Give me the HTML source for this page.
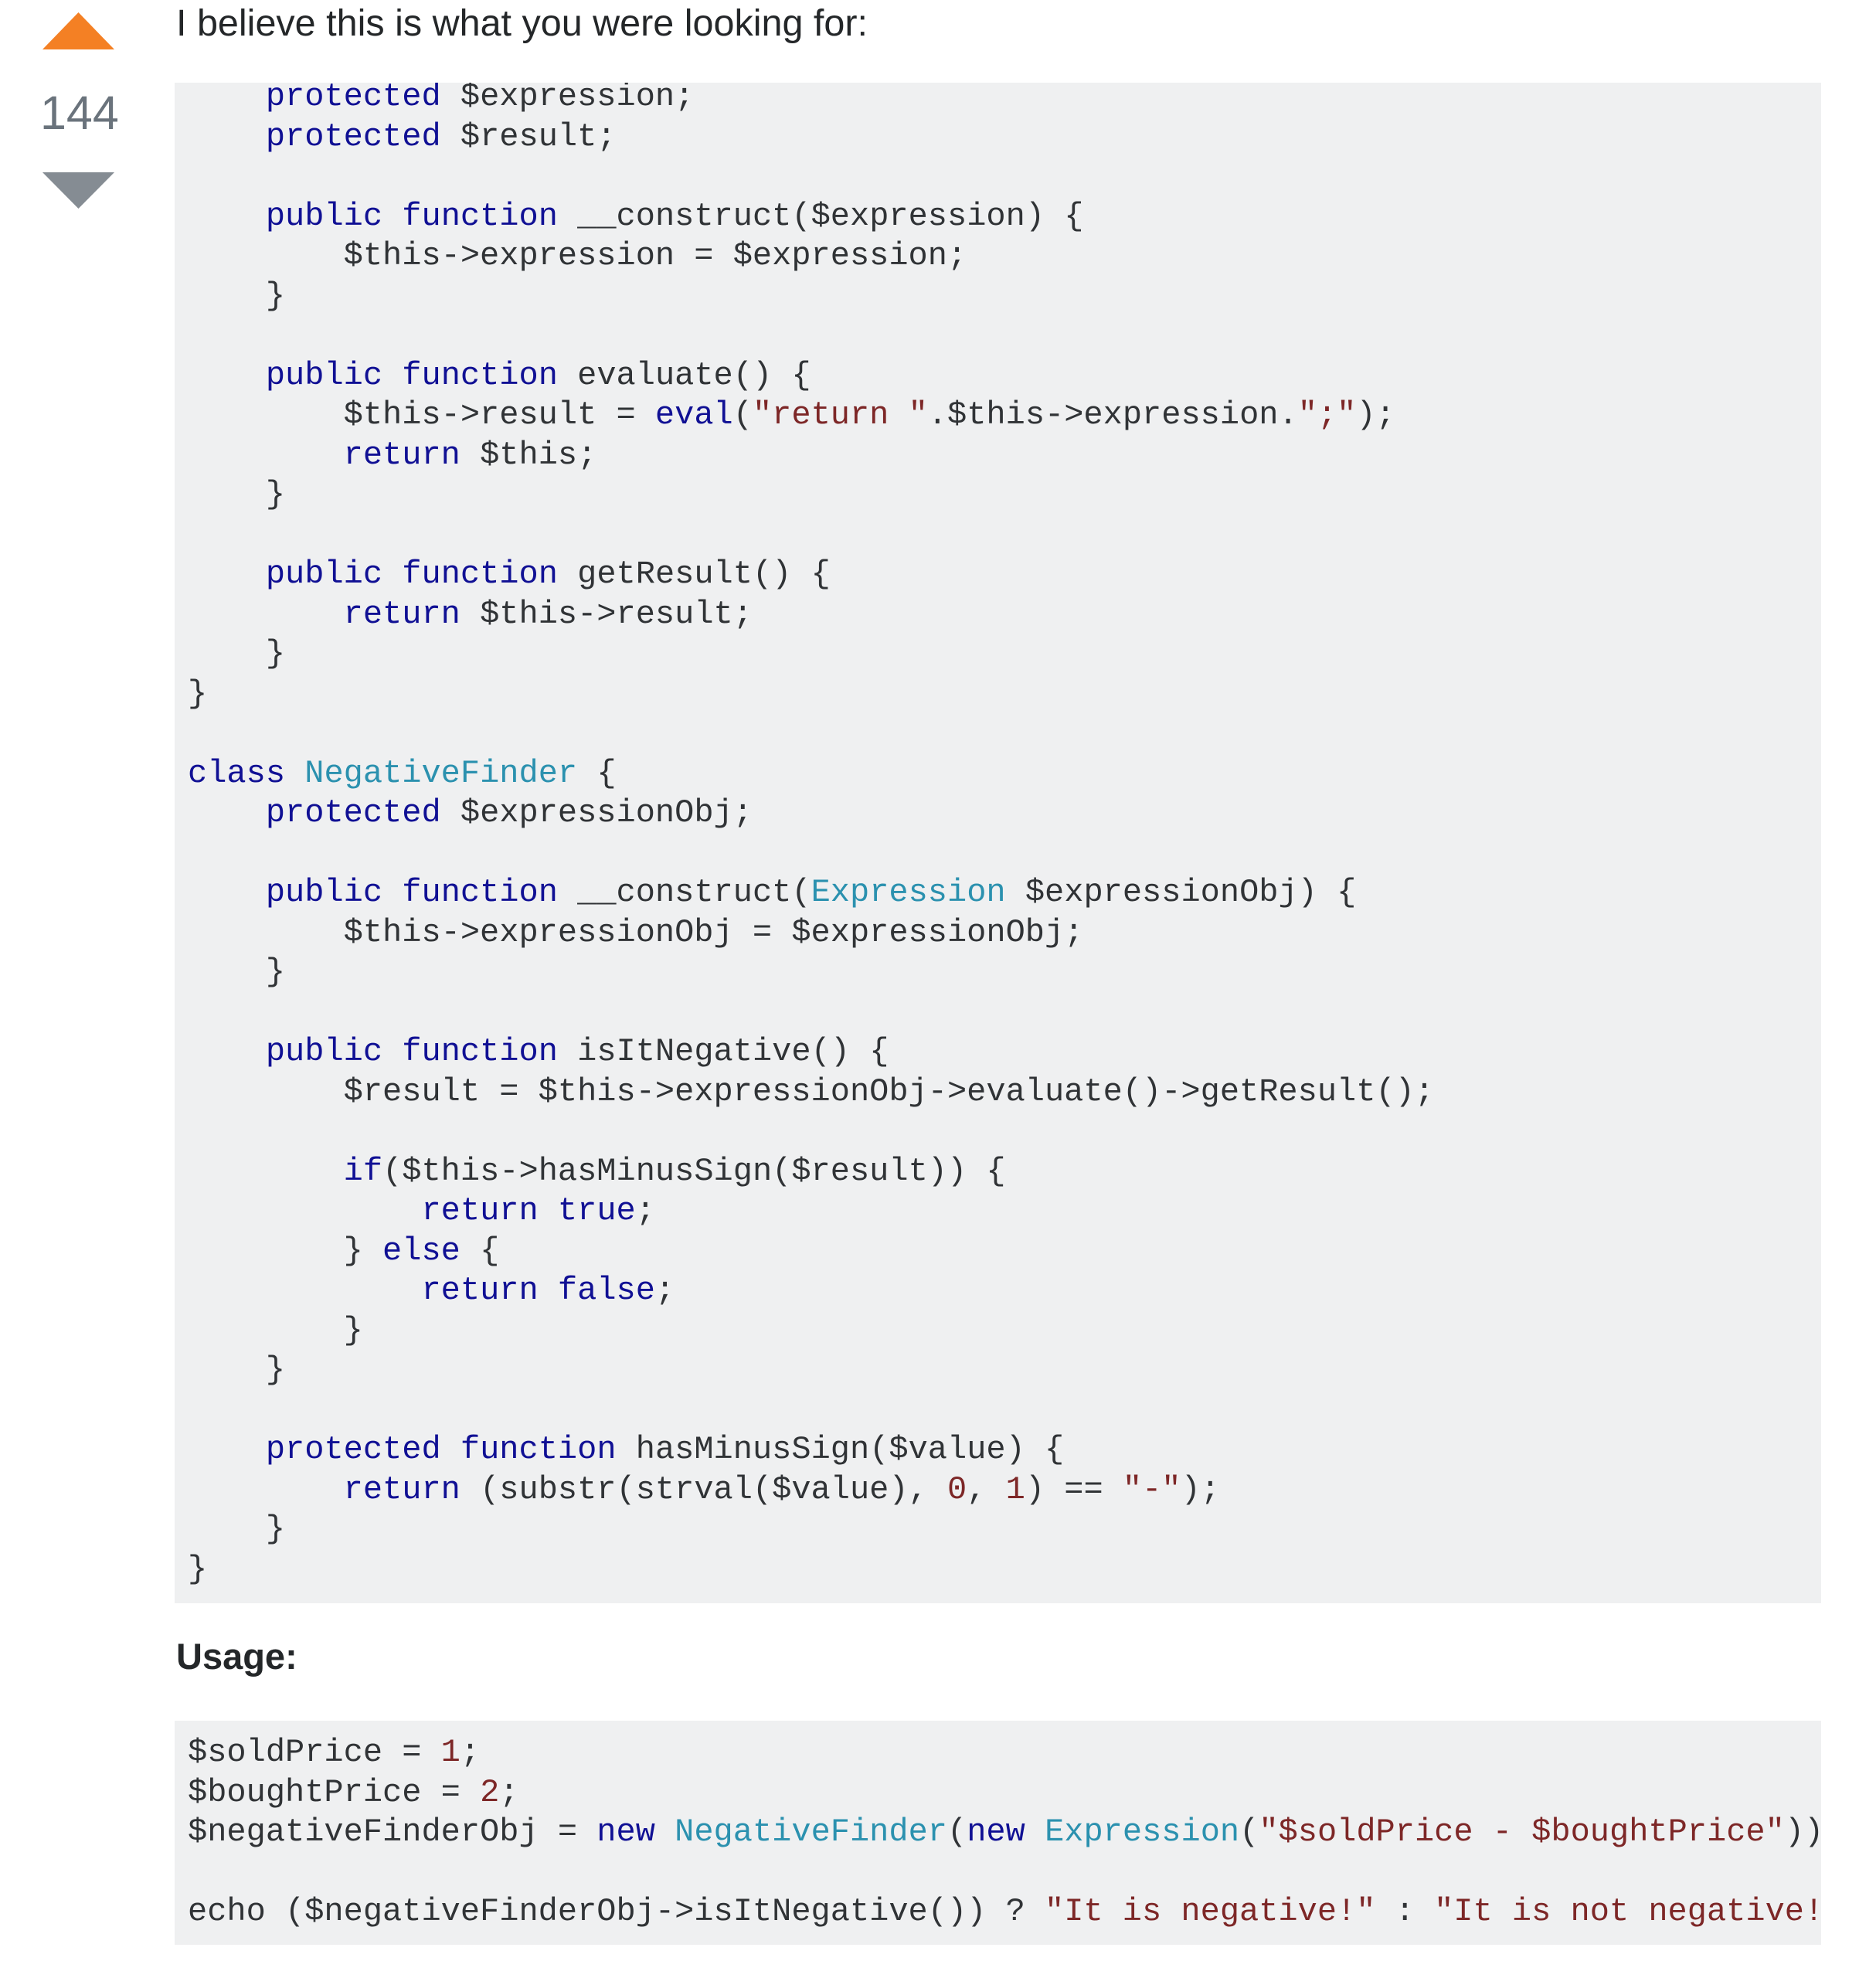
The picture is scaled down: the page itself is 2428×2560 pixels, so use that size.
<!DOCTYPE html>
<html><head><meta charset="utf-8"><style>
html,body{margin:0;padding:0;background:#fff;width:2428px;height:2560px;overflow:hidden;position:relative}
.t{position:absolute;font-family:"Liberation Sans",Arial,sans-serif;color:#242729}
.pre{position:absolute;left:226px;width:2131px;background:#eff0f1;overflow:hidden}
.code{position:absolute;left:17px;margin:0;font-family:"Liberation Mono",monospace;font-size:42px;line-height:51.5px;white-space:pre;color:#303336}
.k{color:#101094}.c{color:#2b91af}.s{color:#7d2727}
</style></head><body>
<svg style="position:absolute;left:0;top:0" width="200" height="300">
<polygon points="55,64 148,64 101.5,16" fill="#f48024"/>
<polygon points="55,223 148,223 101.5,270" fill="#858c93"/>
</svg>
<div class="t" style="left:52px;top:110px;width:100px;text-align:center;font-size:61px;line-height:72px;color:#6a737c">144</div>
<div class="t" style="left:228px;top:0px;font-size:48.5px;line-height:60px;white-space:nowrap">I believe this is what you were looking for:</div>
<div class="pre" style="top:107px;height:1968px"><div class="code" style="top:-7px">    <span class="k">protected</span> $expression;
    <span class="k">protected</span> $result;

    <span class="k">public</span> <span class="k">function</span> __construct($expression) {
        $this-&gt;expression = $expression;
    }

    <span class="k">public</span> <span class="k">function</span> evaluate() {
        $this-&gt;result = <span class="k">eval</span>(<span class="s">"return "</span>.$this-&gt;expression.<span class="s">";"</span>);
        <span class="k">return</span> $this;
    }

    <span class="k">public</span> <span class="k">function</span> getResult() {
        <span class="k">return</span> $this-&gt;result;
    }
}

<span class="k">class</span> <span class="c">NegativeFinder</span> {
    <span class="k">protected</span> $expressionObj;

    <span class="k">public</span> <span class="k">function</span> __construct(<span class="c">Expression</span> $expressionObj) {
        $this-&gt;expressionObj = $expressionObj;
    }

    <span class="k">public</span> <span class="k">function</span> isItNegative() {
        $result = $this-&gt;expressionObj-&gt;evaluate()-&gt;getResult();

        <span class="k">if</span>($this-&gt;hasMinusSign($result)) {
            <span class="k">return</span> <span class="k">true</span>;
        } <span class="k">else</span> {
            <span class="k">return</span> <span class="k">false</span>;
        }
    }

    <span class="k">protected</span> <span class="k">function</span> hasMinusSign($value) {
        <span class="k">return</span> (substr(strval($value), <span class="s">0</span>, <span class="s">1</span>) == <span class="s">"-"</span>);
    }
}</div></div>
<div class="t" style="left:228px;top:2114px;font-size:47px;line-height:60px;font-weight:bold">Usage:</div>
<div class="pre" style="top:2227px;height:290px"><div class="code" style="top:16px">$soldPrice = <span class="s">1</span>;
$boughtPrice = <span class="s">2</span>;
$negativeFinderObj = <span class="k">new</span> <span class="c">NegativeFinder</span>(<span class="k">new</span> <span class="c">Expression</span>(<span class="s">"$soldPrice - $boughtPrice"</span>));

echo ($negativeFinderObj-&gt;isItNegative()) ? <span class="s">"It is negative!"</span> : <span class="s">"It is not negative!"</span>;</div></div>
</body></html>
